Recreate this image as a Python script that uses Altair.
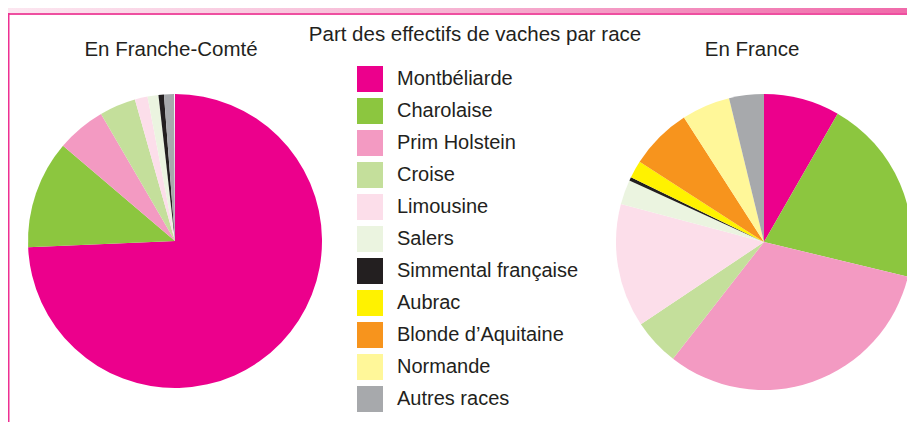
import altair as alt
import pandas as pd

races = ["Montbéliarde", "Charolaise", "Prim Holstein", "Croise", "Limousine",
         "Salers", "Simmental française", "Aubrac", "Blonde d\u2019Aquitaine",
         "Normande", "Autres races"]
couleurs = ["#EC008C", "#8CC63F", "#F39AC2", "#C4DF9B", "#FCDEEA",
            "#EBF4E0", "#231F20", "#FFF200", "#F7941D", "#FFF799", "#A7A9AC"]
franche_comte = [74.4, 11.9, 5.4, 4.0, 1.4, 1.2, 0.6, 0.0, 0.0, 0.0, 1.1]
france = [8.3, 20.5, 31.8, 5.1, 13.5, 2.7, 0.4, 1.9, 6.8, 5.3, 3.8]

titre = "Part des effectifs de vaches par race"
titre_fc = "En Franche-Comté"
titre_fr = "En France"

rows = []
for i, r in enumerate(races):
    rows.append({"region": "FC", "race": r, "idx": i, "val": franche_comte[i]})
    rows.append({"region": "FR", "race": r, "idx": i, "val": france[i]})
df = pd.DataFrame(rows)

W, H = 899, 414
FONT = "Liberation Sans"

color = alt.Color(
    "race:N",
    scale=alt.Scale(domain=races, range=couleurs),
    legend=alt.Legend(
        title=None, orient="none", legendX=349, legendY=58,
        symbolType="square", symbolSize=676, symbolStrokeWidth=0,
        symbolOpacity=1, labelFontSize=20, labelFont=FONT,
        labelColor="#231F20", labelOffset=14, rowPadding=6,
        padding=0, labelLimit=300,
    ),
    sort=races,
)

base = alt.Chart(df)

pie_fc = base.transform_filter(alt.datum.region == "FC").mark_arc(
    radius=147, strokeWidth=0
).encode(
    theta=alt.Theta("val:Q", stack=True),
    color=color,
    order=alt.Order("idx:Q", sort="ascending"),
    x=alt.value(167), y=alt.value(233),
)

pie_fr = base.transform_filter(alt.datum.region == "FR").mark_arc(
    radius=148, strokeWidth=0
).encode(
    theta=alt.Theta("val:Q", stack=True),
    color=color,
    order=alt.Order("idx:Q", sort="ascending"),
    x=alt.value(756), y=alt.value(234),
)

one = pd.DataFrame({"a": [0]})

banner = alt.Chart(one).mark_rect(
    color=alt.LinearGradient(
        gradient="linear",
        stops=[alt.GradientStop(color="#FCE6F0", offset=0),
               alt.GradientStop(color="#F6B3D2", offset=0.5),
               alt.GradientStop(color="#F06AAA", offset=1)],
        x1=0, x2=1, y1=0, y2=0,
    )
).encode(x=alt.value(0), x2=alt.value(W), y=alt.value(0), y2=alt.value(5))

hline = alt.Chart(one).mark_rect(color="#EE4FA0").encode(
    x=alt.value(0), x2=alt.value(W), y=alt.value(5), y2=alt.value(7))
vline = alt.Chart(one).mark_rect(color="#EE2F92").encode(
    x=alt.value(0), x2=alt.value(1.5), y=alt.value(5), y2=alt.value(H))

def label(txt, x, y, size=20):
    return alt.Chart(one).mark_text(
        font=FONT, fontSize=size, color="#231F20", align="center",
        baseline="alphabetic"
    ).encode(x=alt.value(x), y=alt.value(y), text=alt.value(txt))

chart = alt.layer(
    banner, hline, vline, pie_fc, pie_fr,
    label(titre, 467, 33, 20.5), label(titre_fc, 163, 48, 20.5),
    label(titre_fr, 744, 48, 20.5),
).properties(
    width=W, height=H, padding=0,
    autosize=alt.AutoSizeParams(type="none"),
).configure_view(stroke=None)

chart.save("out.html", embed_options={"renderer": "svg", "actions": False})
